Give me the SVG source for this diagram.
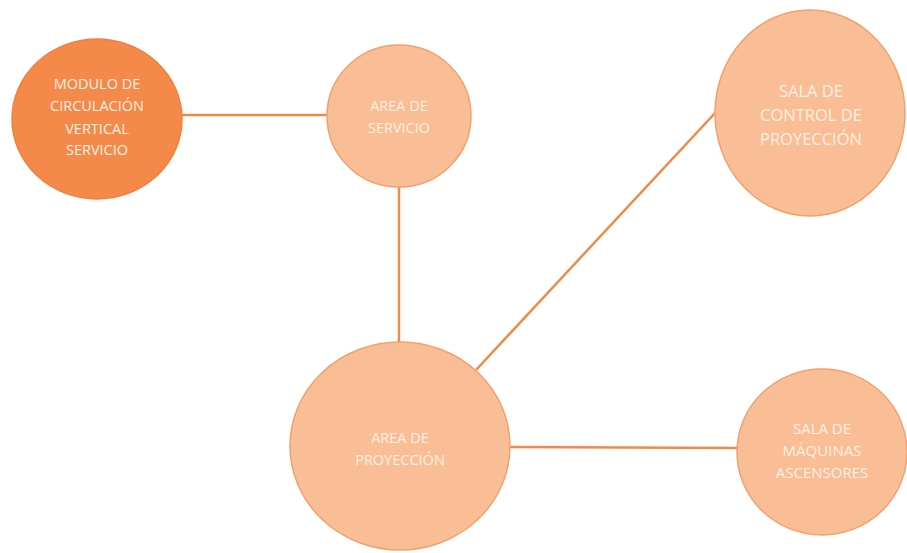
<svg xmlns="http://www.w3.org/2000/svg" width="907" height="553" viewBox="0 0 907 553">
<style>
.edge{stroke:#F08A48;stroke-width:2.5;fill:none}
.dark{fill:#F4894A;stroke:#F08040;stroke-width:1.5}
.light{fill:#F9BE96;stroke:#F2A06C;stroke-width:1.5}
text{font-family:"Open Sans","Liberation Sans",sans-serif;fill:#FFF0E2;text-anchor:middle;dominant-baseline:central}
</style>
<rect width="907" height="553" fill="#FFFFFF"/>
<g id="connectors">
<line class="edge" x1="182" y1="115" x2="328" y2="115"/>
<line class="edge" x1="399" y1="186" x2="399" y2="343"/>
<line class="edge" x1="476" y1="370" x2="716" y2="112"/>
<line class="edge" x1="509" y1="447" x2="738" y2="448"/>
</g>
<g id="modulo">
<ellipse class="dark" cx="97" cy="119" rx="85" ry="80"/>
<text font-size="14.5"><tspan x="97" y="83">MODULO DE</tspan><tspan x="97" y="105">CIRCULACIÓN</tspan><tspan x="97" y="128">VERTICAL</tspan><tspan x="97" y="149">SERVICIO</tspan></text>
</g>
<g id="servicio">
<ellipse class="light" cx="399" cy="116" rx="72" ry="71"/>
<text font-size="14.5"><tspan x="399" y="105">AREA DE</tspan><tspan x="399" y="127">SERVICIO</tspan></text>
</g>
<g id="control">
<ellipse class="light" cx="810" cy="113" rx="95" ry="103"/>
<text font-size="16.5"><tspan x="811" y="90">SALA DE</tspan><tspan x="811" y="114">CONTROL DE</tspan><tspan x="811" y="138">PROYECCIÓN</tspan></text>
</g>
<g id="proyeccion">
<ellipse class="light" cx="400" cy="446" rx="110" ry="104"/>
<text font-size="14.5"><tspan x="400" y="437">AREA DE</tspan><tspan x="400" y="459">PROYECCIÓN</tspan></text>
</g>
<g id="maquinas">
<ellipse class="light" cx="822" cy="452" rx="85" ry="83"/>
<text font-size="15"><tspan x="822" y="428">SALA DE</tspan><tspan x="822" y="450">MÁQUINAS</tspan><tspan x="822" y="472">ASCENSORES</tspan></text>
</g>
</svg>
